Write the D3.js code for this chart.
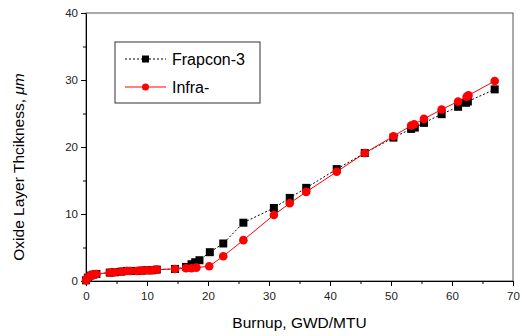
<!DOCTYPE html>
<html>
<head>
<meta charset="utf-8">
<script src="https://cdn.jsdelivr.net/npm/d3@7"></script>
<style>
  body { margin: 0; background: #fff; }
  text { font-family: "Liberation Sans", Arial, sans-serif; }
</style>
</head>
<body>
<svg id="chart"></svg>
<script>
// burnup (GWD/MTU) and oxide thickness (um)
const frapconBurnup = [0, 0.3, 0.7, 1.2, 1.7, 3.9, 4.7, 5.8, 6.7, 7.2, 8.3, 9.1, 10.0, 10.8, 11.6, 14.6, 16.4, 17.3, 17.9, 18.6, 20.3, 22.5, 25.8, 30.8, 33.4, 36.1, 41.1, 45.7, 50.4, 53.3, 53.9, 55.4, 58.3, 61.0, 62.3, 62.6, 67.0];
const frapconOxide = [0.1, 0.5, 0.8, 0.95, 1.05, 1.25, 1.3, 1.4, 1.5, 1.5, 1.5, 1.55, 1.6, 1.6, 1.7, 1.8, 2.1, 2.5, 2.8, 3.1, 4.3, 5.6, 8.7, 10.9, 12.4, 13.9, 16.7, 19.1, 21.4, 22.7, 22.9, 23.6, 24.9, 26.0, 26.6, 26.8, 28.6];

const infraBurnup = [0, 0.3, 0.7, 1.2, 1.7, 3.9, 4.7, 5.8, 6.7, 7.2, 8.3, 9.1, 10.0, 10.8, 11.6, 14.6, 16.4, 17.3, 18.1, 20.2, 22.5, 25.8, 30.8, 33.4, 36.1, 41.1, 45.7, 50.4, 53.3, 53.8, 55.4, 58.3, 61.0, 62.4, 62.7, 67.0];
const infraOxide = [0.1, 0.5, 0.8, 0.95, 1.05, 1.25, 1.3, 1.4, 1.5, 1.5, 1.5, 1.55, 1.6, 1.6, 1.7, 1.8, 1.9, 1.9, 2.0, 2.2, 3.7, 6.1, 9.85, 11.6, 13.3, 16.3, 19.1, 21.6, 23.2, 23.4, 24.2, 25.6, 26.8, 27.5, 27.7, 29.85];

const xTicks = [0, 10, 20, 30, 40, 50, 60, 70];
const yTicks = [0, 10, 20, 30, 40];
const seriesNames = ["Frapcon-3", "Infra-"];

const margin = {top: 13, right: 9, bottom: 55, left: 86},
    width = 522 - margin.left - margin.right,
    height = 336 - margin.top - margin.bottom;

const svg = d3.select("#chart")
    .attr("width", 522)
    .attr("height", 336)
  .append("g")
    .attr("transform", `translate(${margin.left},${margin.top})`);

const x = d3.scaleLinear().domain([0, 70]).range([0, width]);
const y = d3.scaleLinear().domain([0, 40]).range([height, 0]);

// frame
svg.append("rect")
  .attr("width", width).attr("height", height)
  .attr("fill", "none").attr("stroke", "#555").attr("stroke-width", 1);

// minor ticks
svg.append("g")
  .attr("transform", `translate(0,${height})`)
  .call(d3.axisBottom(x).tickValues(d3.range(5, 70, 10)).tickSize(3).tickFormat(""))
  .call(g => g.select(".domain").remove());
svg.append("g")
  .call(d3.axisLeft(y).tickValues(d3.range(5, 40, 10)).tickSize(3).tickFormat(""))
  .call(g => g.select(".domain").remove());

// major axes
const xAxis = svg.append("g")
  .attr("transform", `translate(0,${height})`)
  .call(d3.axisBottom(x).tickValues(xTicks).tickSize(5).tickSizeOuter(0).tickPadding(6));
const yAxis = svg.append("g")
  .call(d3.axisLeft(y).tickValues(yTicks).tickSize(5).tickSizeOuter(0).tickPadding(3));
svg.selectAll(".tick text").attr("font-size", 11.5).attr("fill", "#222");

// axis titles
svg.append("text")
  .attr("x", width / 2).attr("y", height + 47)
  .attr("text-anchor", "middle").attr("font-size", 15.5)
  .text("Burnup, GWD/MTU");
svg.append("text")
  .attr("transform", `translate(${-62},${height / 2 + 20}) rotate(-90)`)
  .attr("text-anchor", "middle").attr("font-size", 15.5)
  .text("Oxide Layer Thcikness, ")
  .append("tspan").attr("font-style", "italic").text("μm");

const frapcon = frapconBurnup.map((b, i) => [b, frapconOxide[i]]);
const infra = infraBurnup.map((b, i) => [b, infraOxide[i]]);

const line = d3.line().x(d => x(d[0])).y(d => y(d[1]));

// Frapcon-3: dashed black with squares
svg.append("path").datum(frapcon)
  .attr("d", line).attr("fill", "none")
  .attr("stroke", "#000").attr("stroke-width", 1).attr("stroke-dasharray", "2,2");
svg.selectAll(".sq").data(frapcon).join("rect")
  .attr("class", "sq")
  .attr("x", d => x(d[0]) - 4).attr("y", d => y(d[1]) - 4)
  .attr("width", 8).attr("height", 8).attr("fill", "#000");

// Infra-: red line with circles
svg.append("path").datum(infra)
  .attr("d", line).attr("fill", "none")
  .attr("stroke", "#f00").attr("stroke-width", 1);
svg.selectAll(".dot").data(infra).join("circle")
  .attr("class", "dot")
  .attr("cx", d => x(d[0])).attr("cy", d => y(d[1]))
  .attr("r", 4.3).attr("fill", "#f00");

// legend
const lg = svg.append("g").attr("transform", `translate(${115 - margin.left},${42 - margin.top})`);
lg.append("rect").attr("width", 145).attr("height", 61)
  .attr("fill", "#fff").attr("stroke", "#333").attr("stroke-width", 1);
const rows = lg.selectAll(".row").data(seriesNames).join("g")
  .attr("class", "row")
  .attr("transform", (d, i) => `translate(0,${17 + i * 28})`);
rows.append("line")
  .attr("x1", 10).attr("x2", 51)
  .attr("stroke", (d, i) => i === 0 ? "#000" : "#f00")
  .attr("stroke-dasharray", (d, i) => i === 0 ? "2,2" : null);
rows.filter((d, i) => i === 0).append("rect")
  .attr("x", 27).attr("y", -3.5).attr("width", 7).attr("height", 7).attr("fill", "#000");
rows.filter((d, i) => i === 1).append("circle")
  .attr("cx", 30.5).attr("r", 3.5).attr("fill", "#f00");
rows.append("text")
  .attr("x", 57).attr("dy", "0.35em").attr("font-size", 16)
  .text(d => d);
</script>
</body>
</html>
